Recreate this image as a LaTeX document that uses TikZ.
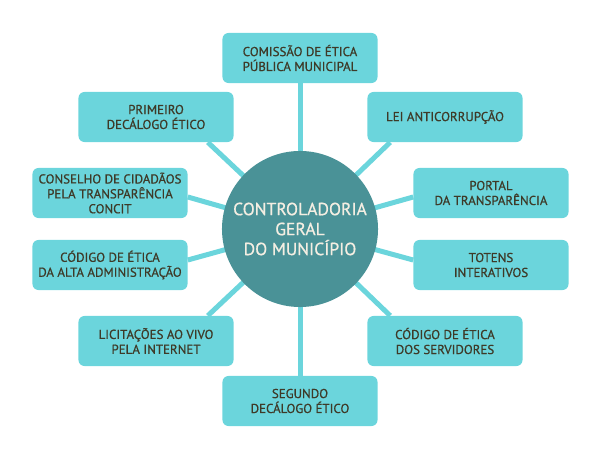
\documentclass[tikz,border=0pt]{standalone}
\usepackage{fontspec}
\setmainfont{PT Sans}[FakeBold=0.7]
\usetikzlibrary{calc}
\usetikzlibrary{backgrounds}
\definecolor{boxcyan}{HTML}{6BD5DC}
\definecolor{hubteal}{HTML}{4A9297}
\definecolor{txtdark}{HTML}{3E3A28}
\definecolor{txtlight}{HTML}{F4EEE2}

\begin{document}
\begin{tikzpicture}[x=0.025cm,y=-0.025cm,
        box/.style={fill=boxcyan,rounded corners=0.15cm,minimum width=3.875cm,minimum height=1.25cm,
            inner sep=0pt,align=center,text=txtdark,font=\fontsize{9.2}{10.6}\selectfont},
        hub/.style={circle,fill=hubteal,minimum size=3.9cm,inner sep=0pt,align=center,
            text=txtlight,font=\fontsize{12.5}{14.2}\selectfont},
        link/.style={draw=boxcyan,line width=0.125cm}]
                \useasboundingbox (0,0) rectangle (600,452);

                \node[hub] (ctr) at (300,229) {CONTROLADORIA\\GERAL\\DO MUNICÍPIO};

                \node[box] (comissao) at (300,58) {COMISSÃO DE ÉTICA\\PÚBLICA MUNICIPAL};
                \node[box] (primeiro) at (156,117) {PRIMEIRO\\DECÁLOGO ÉTICO};
                \node[box] (lei) at (445,117) {LEI ANTICORRUPÇÃO};
                \node[box] (conselho) at (110,193) {CONSELHO DE CIDADÃOS\\PELA TRANSPARÊNCIA\\CONCIT};
                \node[box] (portal) at (491,193) {PORTAL\\DA TRANSPARÊNCIA};
                \node[box] (codalta) at (110,265) {CÓDIGO DE ÉTICA\\DA ALTA ADMINISTRAÇÃO};
                \node[box] (totens) at (491,265) {TOTENS\\INTERATIVOS};
                \node[box] (licit) at (156,341) {LICITAÇÕES AO VIVO\\PELA INTERNET};
                \node[box] (servid) at (445,341) {CÓDIGO DE ÉTICA\\DOS SERVIDORES};
                \node[box] (segundo) at (300,401) {SEGUNDO\\DECÁLOGO ÉTICO};

                % connectors behind the boxes
                \begin{scope}[on background layer]
                \draw[link] (ctr.center) -- (comissao.south);
                \draw[link] (ctr.center) -- ($(primeiro.south east)+(-26,0)$);
                \draw[link] (ctr.center) -- ($(lei.south west)+(23,0)$);
                \draw[link] (ctr.center) -- ($(conselho.east)+(0,4)$);
                \draw[link] (ctr.center) -- ($(portal.west)+(0,4)$);
                \draw[link] (ctr.center) -- ($(codalta.east)+(0,-5)$);
                \draw[link] (ctr.center) -- ($(totens.west)+(0,-5)$);
                \draw[link] (ctr.center) -- ($(licit.north east)+(-26,0)$);
                \draw[link] (ctr.center) -- ($(servid.north west)+(23,0)$);
                \draw[link] (ctr.center) -- (segundo.north);
                \end{scope}
            \end{tikzpicture}
\end{document}
